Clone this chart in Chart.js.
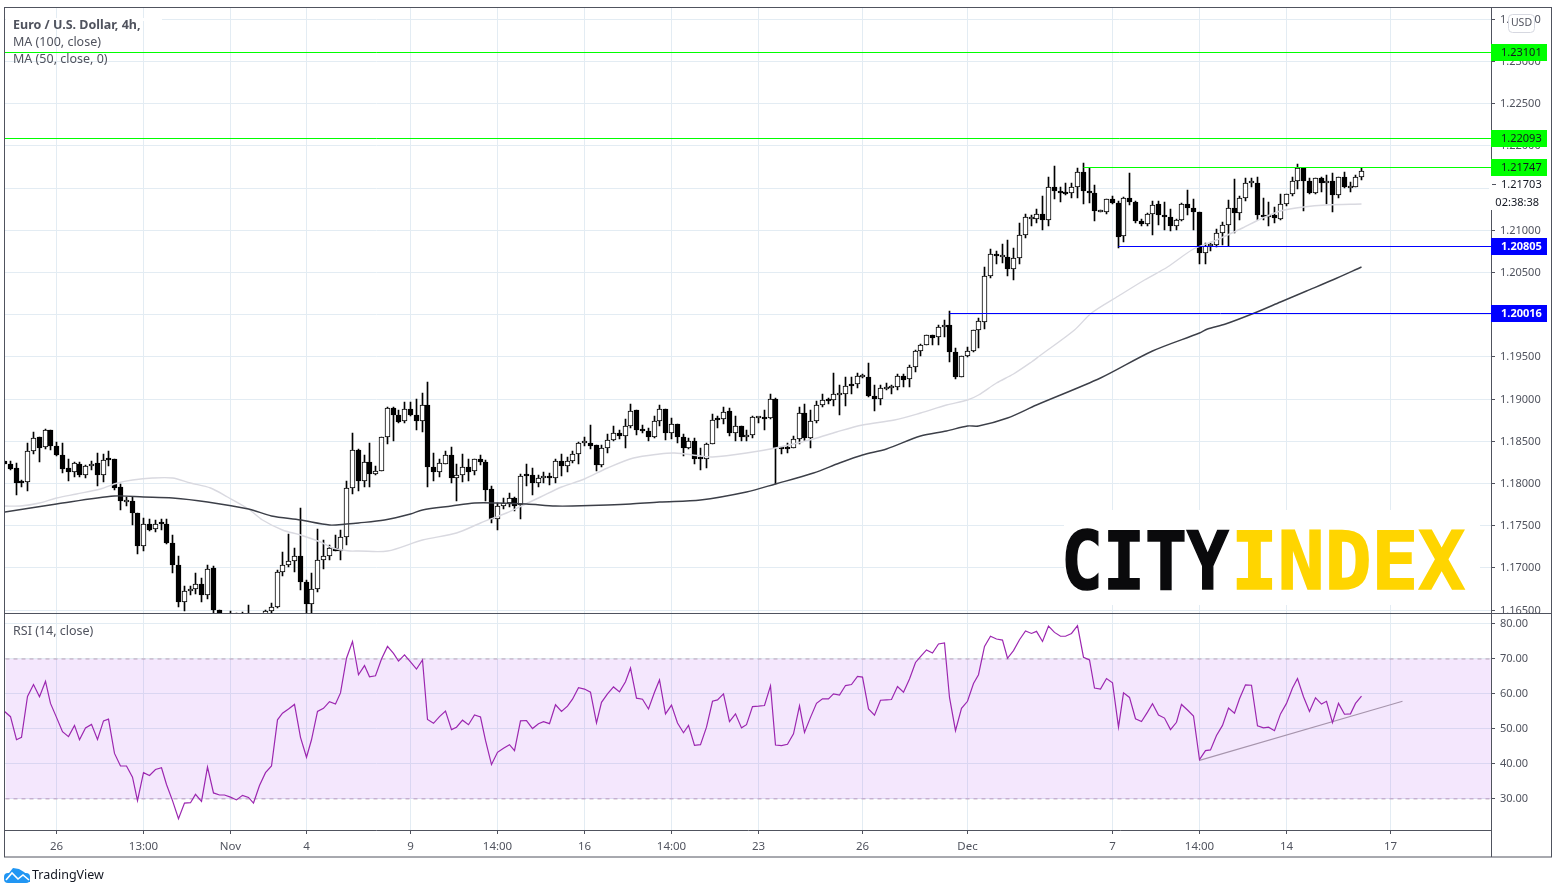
<!DOCTYPE html>
<html><head><meta charset="utf-8">
<style>html,body{margin:0;padding:0;background:#fff}canvas{display:block}</style>
<script src="https://cdn.jsdelivr.net/npm/chart.js@4/dist/chart.umd.js"></script>
</head><body><canvas id="c" width="1558" height="894"></canvas>
<script>
const opens=[1.1826,1.1822,1.1818,1.1801,1.1801,1.1838,1.1854,1.1843,1.1863,1.1844,1.1833,1.1818,1.1813,1.1823,1.1809,1.1820,1.1824,1.1809,1.1829,1.1829,1.1795,1.1778,1.1779,1.1764,1.1726,1.1751,1.1745,1.1752,1.1752,1.1729,1.1703,1.1659,1.1672,1.1674,1.1681,1.1667,1.1699,1.1650,1.1632,1.1638,1.1628,1.1631,1.1632,1.1638,1.1630,1.1641,1.1648,1.1653,1.1695,1.1703,1.1708,1.1714,1.1683,1.1657,1.1675,1.1709,1.1714,1.1723,1.1720,1.1736,1.1794,1.1839,1.1802,1.1825,1.1811,1.1814,1.1854,1.1889,1.1881,1.1873,1.1888,1.1881,1.1874,1.1893,1.1819,1.1813,1.1823,1.1833,1.1806,1.1809,1.1819,1.1814,1.1828,1.1825,1.1793,1.1758,1.1773,1.1776,1.1782,1.1774,1.1809,1.1809,1.1800,1.1806,1.1808,1.1806,1.1826,1.1820,1.1826,1.1834,1.1847,1.1848,1.1845,1.1821,1.1841,1.1851,1.1859,1.1856,1.1867,1.1886,1.1863,1.1862,1.1854,1.1874,1.1888,1.1859,1.1870,1.1854,1.1842,1.1850,1.1830,1.1829,1.1846,1.1877,1.1876,1.1885,1.1859,1.1868,1.1855,1.1857,1.1877,1.1877,1.1877,1.1900,1.1842,1.1842,1.1841,1.1852,1.1883,1.1853,1.1873,1.1892,1.1899,1.1898,1.1904,1.1905,1.1917,1.1917,1.1926,1.1926,1.1903,1.1899,1.1912,1.1913,1.1914,1.1927,1.1923,1.1937,1.1957,1.1964,1.1975,1.1973,1.1985,1.1987,1.1955,1.1926,1.1950,1.1957,1.1981,1.1991,1.2045,1.2071,1.2068,1.2068,1.2053,1.2067,1.2094,1.2113,1.2113,1.2119,1.2112,1.2151,1.2146,1.2144,1.2144,1.2151,1.2168,1.2146,1.2144,1.2121,1.2121,1.2136,1.2132,1.2093,1.2138,1.2133,1.2111,1.2107,1.2119,1.2130,1.2118,1.2115,1.2104,1.2112,1.2131,1.2126,1.2121,1.2073,1.2081,1.2082,1.2096,1.2106,1.2126,1.2120,1.2138,1.2156,1.2156,1.2118,1.2115,1.2117,1.2113,1.2130,1.2142,1.2158,1.2173,1.2158,1.2144,1.2161,1.2155,1.2158,1.2141,1.2162,1.2150,1.2151,1.2163];
const highs=[1.1826,1.1826,1.1824,1.1804,1.1847,1.1861,1.1855,1.1864,1.1863,1.1849,1.1848,1.1828,1.1825,1.1825,1.1821,1.1826,1.1836,1.1834,1.1838,1.1829,1.1799,1.1784,1.1784,1.1764,1.1759,1.1757,1.1756,1.1758,1.1757,1.1738,1.1714,1.1678,1.1678,1.1694,1.1688,1.1703,1.1702,1.1650,1.1642,1.1649,1.1646,1.1647,1.1655,1.1642,1.1643,1.1650,1.1658,1.1697,1.1718,1.1740,1.1723,1.1770,1.1685,1.1694,1.1745,1.1733,1.1727,1.1738,1.1744,1.1802,1.1859,1.1840,1.1833,1.1847,1.1820,1.1854,1.1890,1.1890,1.1887,1.1896,1.1896,1.1899,1.1907,1.1920,1.1836,1.1829,1.1838,1.1843,1.1822,1.1835,1.1828,1.1829,1.1833,1.1827,1.1796,1.1776,1.1782,1.1788,1.1784,1.1811,1.1823,1.1818,1.1809,1.1813,1.1812,1.1828,1.1835,1.1831,1.1838,1.1849,1.1854,1.1869,1.1845,1.1845,1.1858,1.1867,1.1863,1.1876,1.1894,1.1886,1.1869,1.1865,1.1879,1.1892,1.1888,1.1877,1.1870,1.1858,1.1853,1.1853,1.1842,1.1848,1.1882,1.1879,1.1890,1.1889,1.1879,1.1868,1.1863,1.1879,1.1878,1.1886,1.1906,1.1901,1.1843,1.1847,1.1856,1.1890,1.1894,1.1887,1.1897,1.1906,1.1901,1.1930,1.1916,1.1926,1.1926,1.1930,1.1929,1.1942,1.1916,1.1916,1.1919,1.1916,1.1929,1.1929,1.1940,1.1958,1.1965,1.1975,1.1975,1.1987,1.1993,1.2004,1.1960,1.1950,1.1961,1.1981,1.1995,1.2056,1.2077,1.2075,1.2083,1.2088,1.2079,1.2108,1.2119,1.2117,1.2125,1.2140,1.2162,1.2175,1.2151,1.2155,1.2156,1.2173,1.2179,1.2173,1.2153,1.2123,1.2137,1.2140,1.2134,1.2139,1.2167,1.2134,1.2113,1.2120,1.2134,1.2134,1.2133,1.2125,1.2113,1.2132,1.2147,1.2137,1.2121,1.2084,1.2084,1.2101,1.2109,1.2135,1.2160,1.2140,1.2161,1.2161,1.2163,1.2138,1.2133,1.2127,1.2143,1.2143,1.2162,1.2178,1.2173,1.2161,1.2161,1.2163,1.2165,1.2167,1.2162,1.2169,1.2157,1.2165,1.2173];
const lows=[1.1822,1.1815,1.1786,1.1795,1.1790,1.1834,1.1825,1.1840,1.1839,1.1832,1.1812,1.1802,1.1807,1.1807,1.1806,1.1815,1.1796,1.1801,1.1820,1.1792,1.1768,1.1773,1.1750,1.1716,1.1720,1.1743,1.1742,1.1744,1.1728,1.1694,1.1653,1.1648,1.1667,1.1669,1.1659,1.1663,1.1643,1.1628,1.1625,1.1622,1.1622,1.1625,1.1628,1.1624,1.1625,1.1636,1.1643,1.1652,1.1690,1.1701,1.1695,1.1673,1.1643,1.1643,1.1671,1.1698,1.1709,1.1719,1.1709,1.1727,1.1787,1.1790,1.1795,1.1795,1.1810,1.1814,1.1846,1.1850,1.1871,1.1871,1.1879,1.1863,1.1861,1.1795,1.1802,1.1807,1.1822,1.1800,1.1779,1.1801,1.1803,1.1810,1.1821,1.1779,1.1753,1.1744,1.1769,1.1772,1.1767,1.1758,1.1796,1.1786,1.1795,1.1800,1.1798,1.1800,1.1808,1.1813,1.1824,1.1823,1.1844,1.1840,1.1814,1.1819,1.1836,1.1850,1.1852,1.1842,1.1865,1.1857,1.1859,1.1850,1.1853,1.1868,1.1851,1.1852,1.1847,1.1832,1.1840,1.1822,1.1815,1.1818,1.1846,1.1865,1.1870,1.1856,1.1850,1.1850,1.1850,1.1853,1.1871,1.1863,1.1876,1.1799,1.1834,1.1836,1.1841,1.1846,1.1850,1.1841,1.1871,1.1890,1.1894,1.1891,1.1881,1.1891,1.1905,1.1913,1.1925,1.1902,1.1885,1.1892,1.1910,1.1906,1.1910,1.1914,1.1914,1.1932,1.1950,1.1963,1.1963,1.1963,1.1973,1.1943,1.1923,1.1926,1.1949,1.1955,1.1960,1.1983,1.2043,1.2060,1.2061,1.2045,1.2040,1.2060,1.2090,1.2104,1.2108,1.2100,1.2104,1.2137,1.2133,1.2141,1.2138,1.2138,1.2131,1.2132,1.2110,1.2121,1.2119,1.2130,1.2079,1.2085,1.2129,1.2108,1.2104,1.2104,1.2094,1.2106,1.2100,1.2098,1.2100,1.2111,1.2118,1.2100,1.2059,1.2060,1.2075,1.2080,1.2082,1.2081,1.2096,1.2112,1.2134,1.2151,1.2112,1.2112,1.2105,1.2108,1.2112,1.2128,1.2140,1.2148,1.2122,1.2142,1.2143,1.2145,1.2131,1.2121,1.2138,1.2150,1.2145,1.2151,1.2159];
const closes=[1.1822,1.1817,1.1800,1.1800,1.1838,1.1853,1.1842,1.1863,1.1844,1.1833,1.1817,1.1813,1.1824,1.1809,1.1820,1.1823,1.1809,1.1827,1.1827,1.1794,1.1779,1.1779,1.1764,1.1726,1.1751,1.1744,1.1751,1.1751,1.1729,1.1703,1.1659,1.1672,1.1674,1.1680,1.1667,1.1698,1.1650,1.1635,1.1638,1.1630,1.1636,1.1640,1.1641,1.1630,1.1637,1.1649,1.1653,1.1695,1.1703,1.1708,1.1714,1.1683,1.1657,1.1675,1.1709,1.1714,1.1723,1.1720,1.1736,1.1794,1.1839,1.1802,1.1825,1.1811,1.1814,1.1854,1.1889,1.1881,1.1872,1.1888,1.1881,1.1873,1.1893,1.1819,1.1813,1.1824,1.1833,1.1806,1.1809,1.1819,1.1813,1.1828,1.1825,1.1792,1.1758,1.1773,1.1776,1.1782,1.1773,1.1808,1.1808,1.1800,1.1806,1.1808,1.1806,1.1826,1.1820,1.1826,1.1834,1.1848,1.1848,1.1844,1.1821,1.1841,1.1851,1.1859,1.1856,1.1867,1.1885,1.1863,1.1862,1.1854,1.1874,1.1888,1.1859,1.1870,1.1854,1.1842,1.1850,1.1829,1.1829,1.1846,1.1875,1.1875,1.1884,1.1859,1.1868,1.1854,1.1857,1.1878,1.1877,1.1876,1.1900,1.1841,1.1840,1.1840,1.1852,1.1883,1.1853,1.1873,1.1892,1.1898,1.1897,1.1905,1.1905,1.1915,1.1915,1.1927,1.1927,1.1903,1.1899,1.1913,1.1912,1.1914,1.1927,1.1922,1.1937,1.1957,1.1964,1.1975,1.1972,1.1985,1.1985,1.1955,1.1926,1.1950,1.1957,1.1981,1.1992,1.2045,1.2071,1.2069,1.2069,1.2053,1.2067,1.2094,1.2115,1.2115,1.2119,1.2112,1.2151,1.2146,1.2144,1.2143,1.2151,1.2168,1.2146,1.2144,1.2122,1.2123,1.2136,1.2132,1.2092,1.2138,1.2133,1.2110,1.2107,1.2119,1.2129,1.2118,1.2115,1.2104,1.2112,1.2131,1.2126,1.2121,1.2073,1.2081,1.2082,1.2096,1.2106,1.2126,1.2120,1.2138,1.2156,1.2157,1.2117,1.2115,1.2117,1.2114,1.2130,1.2142,1.2158,1.2173,1.2158,1.2144,1.2161,1.2155,1.2158,1.2141,1.2162,1.2151,1.2150,1.2163,1.2170];
const ma100Bars=[0,9,19,24,29,35,42,46,51,56,59,61,65.5,70,72,77,81,85,90,95,98,104,108,113,120,128,133,139.5,144,148,152,158,162.5,166,168,173,178,189,198,206,207.5,210.5,215.5,220,224.5,229,234];
const ma100Values=[1.1766,1.1775,1.1785,1.1784,1.1782,1.1777,1.1769,1.1761,1.1756,1.1750,1.1751,1.1753,1.1756,1.1763,1.1768,1.1773,1.1776,1.1776,1.1775,1.1773,1.1773,1.1774,1.1775,1.1777,1.1780,1.1789,1.1799,1.1812,1.1824,1.1833,1.1840,1.1856,1.1862,1.1867,1.1868,1.1877,1.1893,1.1925,1.1957,1.1978,1.1982,1.1989,1.2001,1.2014,1.2027,1.2041,1.2056];
const ma50Bars=[0,2.7,6,9,12.5,16.5,19.5,22,25.5,29,32,35.5,38.5,42,44.5,48,51,54.5,56.5,59.5,61,66,72,78,82,86.5,89.5,92.5,96,100,104,108.5,113,115.5,120,122,128,133,139.5,143.5,148,153.5,158,162.5,166,168,171,174,177,178.5,184.5,187.5,192,196.5,200.5,205,209,213.5,216.5,220,224,228,234];
const ma50Values=[1.1773,1.1773,1.1776,1.1782,1.1787,1.1793,1.1800,1.1804,1.1806,1.1806,1.1800,1.1794,1.1784,1.1769,1.1756,1.1744,1.1738,1.1730,1.1723,1.1720,1.1720,1.1720,1.1733,1.1741,1.1753,1.1764,1.1774,1.1784,1.1795,1.1805,1.1818,1.1830,1.1835,1.1836,1.1832,1.1831,1.1836,1.1842,1.1852,1.1861,1.1869,1.1875,1.1883,1.1893,1.1898,1.1904,1.1919,1.1929,1.1943,1.1951,1.1981,1.2002,1.2021,1.2041,1.2056,1.2077,1.2088,1.2102,1.2113,1.2122,1.2127,1.2129,1.2131];
const rsiValues=[55,53.5,46.9,47.6,59.3,62.7,59.2,63.6,57.3,53.3,49.2,47.8,51,46.9,50.3,51.3,47,52.3,52.8,43,39.4,39.4,36.2,29.5,37.5,36.7,38.4,38.9,34.1,29.5,24.3,28.8,28.9,31.3,29.3,39.1,31.7,31.1,31.1,30.5,29.7,31,30.4,28.8,33.8,37.5,39.4,52.6,54.5,55.7,57,47.6,41.9,46.9,55,55.9,57.8,57.1,60.3,70.2,75,65.5,68.1,64.9,65.2,70,73.6,71.6,69.4,71.2,69.2,67.1,69.7,52.7,51.6,53.5,55.1,49.8,50.5,52.5,51.2,54,53.4,46.7,39.8,43.3,44.5,45.5,43.8,52.3,52.4,50.1,51.5,52.1,51.5,56.9,55,56.5,58.5,61.8,61.4,60.5,51.7,57.6,60,62,60.6,63.5,67.4,58.8,58.5,55.7,60.5,64,54.3,56.8,51.7,48.9,51,45.3,45.5,50.5,57.9,58.3,60,52.1,54.3,50.3,51.2,56.4,56.5,56.7,62.3,45.4,45.2,45.6,48.6,56.6,49,53.3,57.3,58.6,58.6,60,59.7,62.4,62.7,65,64.8,55.7,53.9,58.2,58.3,58.4,62.1,60.5,64.3,69,70.7,72.6,71.7,74.3,74.6,59,49.5,55.9,57.9,63,65.5,73.6,76.5,75.7,75.4,70.2,72.4,75.5,78,77.3,77.9,75,79.4,77.6,76.5,76.5,77.3,79.5,70.5,69.7,61.7,61.4,64.4,63.2,50.5,60.3,59,52.9,52.1,54.8,57.2,54,53.1,49.8,51.9,57,55.4,53.7,41.2,43.8,44,48.1,51,56,54.5,58.6,62.6,62.5,50.9,50.3,50.5,49.5,54.3,57.3,61.7,64.4,59.2,55,58.9,57.1,57.9,51.8,57.3,54.2,54.3,57.3,59.4];
const xTickBars=[9,24,39,52,70,85,100,115,130,148,166,191,206,221,239];
const xTickLabels=['26','13:00','Nov','4','9','14:00','16','14:00','23','26','Dec','7','14:00','14','17'];
const priceTicks=[1.165,1.17,1.175,1.18,1.185,1.19,1.195,1.2,1.205,1.21,1.215,1.22,1.225,1.23,1.235];
const rsiTicks=[30,40,50,60,70,80];
const levelValues=[1.23101,1.22093,1.21747,1.20805,1.20016];
const levelStartBars=[0,0,186,192,163];
const levelColors=['#00ff00','#00ff00','#00ff00','#0000ff','#0000ff'];
const levelText=['#131722','#131722','#131722','#ffffff','#ffffff'];
const lastPrice=1.21703;
const countdown='02:38:38';
const rsiBandHigh=70, rsiBandLow=30;
const trendBars=[206,241], trendValues=[41,57.9];
const legendLines=['Euro / U.S. Dollar, 4h,','MA (100, close)','MA (50, close, 0)'];
const rsiTitle='RSI (14, close)';

const XMIN=0.086, XMAX=256.3;
const FONT='"Noto Sans"', TXT='#50535e', GRID='#e3ecf3';

class SnapX extends Chart.LinearScale{ getPixelForValue(v){return Math.floor(super.getPixelForValue(v))+.5;} }
SnapX.id='snapX'; SnapX.defaults=Chart.LinearScale.defaults;
class SnapY extends Chart.LinearScale{ getPixelForValue(v){return Math.floor(super.getPixelForValue(v)+.3);} }
SnapY.id='snapY'; SnapY.defaults=Chart.LinearScale.defaults;
Chart.register(SnapX,SnapY);

const bars=opens.map((_,i)=>i);
const datasets=[];
datasets.push({type:'bar',label:'wick',yAxisID:'price',xAxisID:'x',data:bars.map(i=>({x:i,y:[lows[i],highs[i]]})),barThickness:1,backgroundColor:'#000',borderWidth:0,grouped:false,order:10});
datasets.push({type:'bar',label:'body',yAxisID:'price',xAxisID:'x',data:bars.map(i=>({x:i,y:[opens[i],closes[i]]})),barThickness:5,minBarLength:2,borderWidth:1,borderSkipped:false,borderColor:'#000',backgroundColor:bars.map(i=>closes[i]>=opens[i]?'#fff':'#000'),grouped:false,order:9});
const line=(o)=>Object.assign({type:'line',xAxisID:'x',pointRadius:0,tension:0,fill:false},o);
datasets.push(line({label:'MA100',yAxisID:'price',data:ma100Bars.map((b,i)=>({x:b,y:ma100Values[i]})),borderColor:'#3c3f48',borderWidth:1.4,tension:.3,order:5}));
datasets.push(line({label:'MA50',yAxisID:'price',data:ma50Bars.map((b,i)=>({x:b,y:ma50Values[i]})),borderColor:'#d9d9e0',borderWidth:1.4,tension:.3,order:6}));
levelValues.forEach((v,k)=>datasets.push(line({label:'level',yAxisID:'price',data:[{x:levelStartBars[k],y:v},{x:XMAX,y:v}],borderColor:levelColors[k],borderWidth:1,order:2})));
datasets.push(line({label:'bandHigh',yAxisID:'rsi',data:[{x:XMIN,y:rsiBandHigh},{x:XMAX,y:rsiBandHigh}],borderColor:'#b8a0b8',borderWidth:1,borderDash:[4,4],fill:{target:'+1'},backgroundColor:'rgba(146,19,237,0.10)',order:20}));
datasets.push(line({label:'bandLow',yAxisID:'rsi',data:[{x:XMIN,y:rsiBandLow},{x:XMAX,y:rsiBandLow}],borderColor:'#b8a0b8',borderWidth:1,borderDash:[4,4],order:21}));
datasets.push(line({label:'trend',yAxisID:'rsi',data:trendBars.map((b,i)=>({x:b,y:trendValues[i]})),borderColor:'#a795ad',borderWidth:1.1,order:4}));
datasets.push(line({label:'RSI',yAxisID:'rsi',data:bars.map(i=>({x:i,y:rsiValues[i]})),borderColor:'#9c27b0',borderWidth:1.2,order:3}));

const ticksFrom=(arr)=>function(s){s.ticks=arr.map(v=>({value:v}));};
const noPad=(s)=>{s.paddingTop=0;s.paddingBottom=0;s.paddingLeft=0;s.paddingRight=0;};
const chrome={id:'chrome',
 beforeDatasetsDraw(ch){const c=ch.ctx;c.save();c.fillStyle='#fff';
  c.fillRect(6,18,156,3);
  c.fillRect(1064,510,416,95);
  c.restore();},
 beforeDatasetDraw(ch,a){const d=ch.data.datasets[a.index];if(d.label==='level'){ch.ctx.save();ch.ctx.translate(0,.5);}},
 afterDatasetDraw(ch,a){const d=ch.data.datasets[a.index];if(d.label==='level'){ch.ctx.restore();}},
 afterDraw(ch){
  const c=ch.ctx,P=ch.scales.price;c.save();
  c.strokeStyle=TXT;c.lineWidth=1;
  c.strokeRect(4.5,7.5,1547,849.5);
  c.beginPath();c.moveTo(4,613.5);c.lineTo(1552,613.5);c.moveTo(1491.5,8);c.lineTo(1491.5,857);c.stroke();
  c.textBaseline='middle';c.textAlign='left';c.fillStyle=TXT;
  c.font='bold 12.5px '+FONT;c.fillText(legendLines[0],13,25);
  c.font='12.5px '+FONT;c.fillText(legendLines[1],13,42);c.fillText(legendLines[2],13,59);
  c.fillText(rsiTitle,13,631);
  c.fillStyle='#fff';c.fillRect(1489,174,58,36);
  c.fillStyle=TXT;c.fillRect(1492,184,4,1);
  c.fillStyle='#131722';c.font='11px '+FONT;
  c.fillText(lastPrice.toFixed(5),1501,184.5);
  c.textAlign='right';c.fillText(countdown,1539,202.5);c.textAlign='left';
  levelValues.forEach((v,k)=>{const y=P.getPixelForValue(v);
    c.fillStyle=levelColors[k];c.fillRect(1491,y-8,56,17);
    c.fillStyle=levelText[k];c.font=(k>2?'bold ':'')+'11px '+FONT;c.fillText(v.toFixed(5),1501,y+.5);});
  c.fillStyle='#fff';c.strokeStyle='#d6d8e0';c.beginPath();c.roundRect(1508.5,14.5,26,18,4);c.fill();c.stroke();
  c.fillStyle=TXT;c.font='10.5px '+FONT;c.textAlign='center';c.fillText('USD',1521.5,23.5);c.textAlign='left';
  c.font='bold 81px "DejaVu Sans Mono"';c.textBaseline='alphabetic';c.lineJoin='miter';c.lineWidth=1.6;
  c.save();c.translate(1061,589);c.scale(.86,1);c.fillStyle=c.strokeStyle='#0a0a0c';c.fillText('CITY',0,0);c.strokeText('CITY',0,0);c.restore();
  c.save();c.translate(1231,589);c.scale(.96,1);c.fillStyle=c.strokeStyle='#ffd500';c.fillText('INDEX',0,0);c.strokeText('INDEX',0,0);c.restore();
  c.fillStyle='#2196f3';c.beginPath();c.roundRect(4,873,26,10,4);c.fill();
  c.beginPath();c.moveTo(5,878);c.lineTo(13,868);c.lineTo(19,869);c.lineTo(24,872);c.lineTo(30,877);c.lineTo(30,882);c.lineTo(5,882);c.closePath();c.fill();
  c.strokeStyle='#fff';c.lineWidth=1.6;c.beginPath();c.moveTo(6,880);c.lineTo(12,873);c.lineTo(18,879);c.lineTo(23,875);c.lineTo(29,880);c.stroke();
  c.fillStyle='#131722';c.font='12.5px '+FONT;c.textBaseline='middle';c.fillText('TradingView',32,875.5);
  c.restore();
 }};

new Chart(document.getElementById('c'),{
 data:{datasets},
 plugins:[chrome],
 options:{responsive:false,animation:false,devicePixelRatio:1,
  layout:{autoPadding:false,padding:{left:5,top:8,right:6,bottom:37}},
  plugins:{legend:{display:false},tooltip:{enabled:false},title:{display:false}},
  events:[],
  scales:{
   x:{type:'snapX',min:XMIN,max:XMAX,position:'bottom',offset:false,
     afterBuildTicks:ticksFrom(xTickBars),afterFit(s){s.height=27;noPad(s);},
     grid:{offset:false,color:GRID,lineWidth:1,tickColor:TXT,tickLength:4},border:{color:TXT},
     ticks:{autoSkip:false,maxRotation:0,minRotation:0,padding:6,color:TXT,font:{family:FONT,size:11.5},callback:v=>xTickLabels[xTickBars.indexOf(v)]}},
   price:{type:'snapY',axis:'y',position:'right',stack:'pane',stackWeight:605.5,min:1.16457,max:1.2363,
     afterBuildTicks:ticksFrom(priceTicks),afterFit(s){s.width=61;noPad(s);},
     grid:{color:GRID,lineWidth:1,tickColor:TXT,tickLength:4},border:{color:TXT},
     ticks:{padding:5,labelOffset:1,color:TXT,font:{family:FONT,size:11},callback:v=>v.toFixed(5)}},
   rsi:{type:'linear',axis:'y',position:'right',stack:'pane',stackWeight:216.5,min:21.1,max:83.0,
     afterBuildTicks:ticksFrom(rsiTicks),afterFit(s){s.width=61;noPad(s);},
     grid:{color:GRID,lineWidth:1,tickColor:TXT,tickLength:4},border:{color:TXT},
     ticks:{padding:5,color:TXT,font:{family:FONT,size:11},callback:v=>v.toFixed(2)}}
  }}
});
</script></body></html>
